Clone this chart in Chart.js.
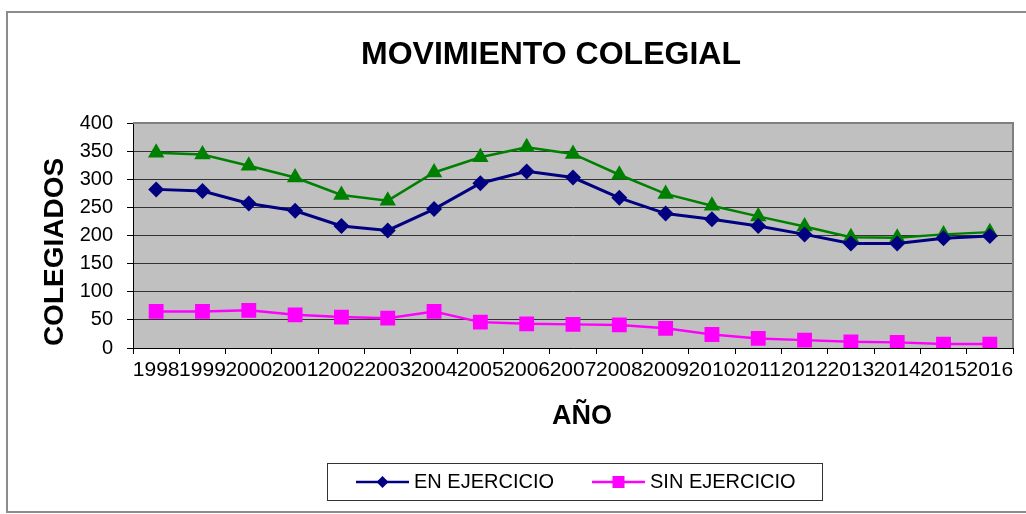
<!DOCTYPE html>
<html>
<head>
<meta charset="utf-8">
<script src="https://cdn.jsdelivr.net/npm/chart.js@4/dist/chart.umd.min.js"></script>
<style>
  html, body { margin: 0; padding: 0; background: #fff; }
  #wrap { position: relative; width: 1026px; height: 514px; }
</style>
</head>
<body>
<div id="wrap"><canvas id="chart"></canvas></div>
<script>
// datos
var years = ['1998', '1999', '2000', '2001', '2002', '2003', '2004', '2005', '2006', '2007',
             '2008', '2009', '2010', '2011', '2012', '2013', '2014', '2015', '2016'];
var enEjercicio = [282, 279, 257, 244, 217, 209, 247, 293, 314, 303, 267, 239, 229, 217, 202, 186, 186, 195, 199];
var sinEjercicio = [65, 65, 67, 59, 55, 53, 65, 46, 43, 42, 41, 35, 24, 17, 14, 11, 10, 7, 7];
var total = [347, 344, 324, 303, 272, 262, 312, 339, 357, 345, 308, 274, 253, 234, 216, 197, 196, 202, 206];
var yMin = 0, yMax = 400, yStep = 50;

var FONT = '"Liberation Sans", Arial, sans-serif';

// fondo gris del area de trazado
var backgroundPlugin = {
  id: 'plotBackground',
  beforeDraw: function(chart) {
    var ctx = chart.ctx, a = chart.chartArea;
    ctx.save();
    ctx.fillStyle = '#c0c0c0';
    ctx.fillRect(a.left, a.top, a.right - a.left, a.bottom - a.top);
    ctx.restore();
  },
  beforeDatasetsDraw: function(chart) {
    var ctx = chart.ctx, a = chart.chartArea;
    ctx.save();
    ctx.strokeStyle = '#808080';
    ctx.lineWidth = 2;
    ctx.beginPath();
    ctx.moveTo(a.left, a.top);
    ctx.lineTo(a.right, a.top);
    ctx.lineTo(a.right, a.bottom);
    ctx.stroke();
    ctx.restore();
  }
};

// titulos, borde y leyenda con recuadro
var textPlugin = {
  id: 'texts',
  afterDraw: function(chart) {
    var ctx = chart.ctx;
    ctx.save();

    // borde del grafico (sin lado derecho visible)
    ctx.strokeStyle = '#8c8c8c';
    ctx.lineWidth = 2;
    ctx.beginPath();
    ctx.moveTo(1026, 12);
    ctx.lineTo(7, 12);
    ctx.lineTo(7, 512);
    ctx.lineTo(1026, 512);
    ctx.stroke();

    ctx.fillStyle = '#000';
    ctx.textAlign = 'center';
    ctx.textBaseline = 'middle';

    ctx.font = 'bold 32px ' + FONT;
    ctx.fillText('MOVIMIENTO COLEGIAL', 551, 55);

    ctx.font = 'bold 27px ' + FONT;
    ctx.fillText('AÑO', 582, 417);

    ctx.save();
    ctx.translate(55, 252);
    ctx.rotate(-Math.PI / 2);
    ctx.font = 'bold 28px ' + FONT;
    ctx.fillText('COLEGIADOS', 0, 0);
    ctx.restore();

    // leyenda
    ctx.strokeStyle = '#333';
    ctx.lineWidth = 1;
    ctx.strokeRect(327.5, 463.5, 495, 37);

    var itemX = [356, 592];
    var y = 482;
    var n = 0;
    chart.data.datasets.forEach(function(ds) {
      if (ds.hideInLegend) return;
      var x = itemX[n++];
      ctx.strokeStyle = ds.borderColor;
      ctx.lineWidth = 2.5;
      ctx.beginPath();
      ctx.moveTo(x, y);
      ctx.lineTo(x + 53, y);
      ctx.stroke();
      ctx.fillStyle = ds.pointBackgroundColor;
      var cx = x + 26.5;
      ctx.beginPath();
      if (ds.pointStyle === 'rectRot') {
        ctx.moveTo(cx, y - 6);
        ctx.lineTo(cx + 6, y);
        ctx.lineTo(cx, y + 6);
        ctx.lineTo(cx - 6, y);
      } else {
        ctx.rect(cx - 6, y - 6, 12, 12);
      }
      ctx.closePath();
      ctx.fill();
      ctx.fillStyle = '#000';
      ctx.font = '20px ' + FONT;
      ctx.textAlign = 'left';
      ctx.fillText(ds.label, x + 58, y);
    });

    ctx.restore();
  }
};

new Chart(document.getElementById('chart'), {
  type: 'line',
  data: {
    labels: years,
    datasets: [{
      label: 'EN EJERCICIO',
      data: enEjercicio,
      borderColor: '#000080',
      backgroundColor: '#000080',
      pointBackgroundColor: '#000080',
      pointBorderColor: '#000080',
      borderWidth: 3,
      pointStyle: 'rectRot',
      pointRadius: 8,
      pointBorderWidth: 0,
      tension: 0
    }, {
      label: 'SIN EJERCICIO',
      data: sinEjercicio,
      borderColor: '#ff00ff',
      backgroundColor: '#ff00ff',
      pointBackgroundColor: '#ff00ff',
      pointBorderColor: '#ff00ff',
      borderWidth: 2.5,
      pointStyle: 'rect',
      pointRadius: 10.5,
      pointBorderWidth: 0,
      tension: 0
    }, {
      label: 'TOTAL',
      hideInLegend: true,
      data: total,
      borderColor: '#008000',
      backgroundColor: '#008000',
      pointBackgroundColor: '#008000',
      pointBorderColor: '#008000',
      borderWidth: 2.5,
      pointStyle: 'triangle',
      pointRadius: 9.5,
      pointBorderWidth: 0,
      tension: 0
    }]
  },
  options: {
    responsive: true,
    maintainAspectRatio: false,
    animation: false,
    layout: {
      padding: { left: 0, top: 123, right: 13, bottom: 126 }
    },
    plugins: {
      legend: { display: false },
      title: { display: false },
      tooltip: { enabled: false }
    },
    scales: {
      x: {
        offset: true,
        afterFit: function(scale) { scale.height = 40; },
        grid: {
          offset: true,
          drawOnChartArea: false,
          drawTicks: true,
          tickLength: 6,
          tickColor: '#000'
        },
        border: { color: '#000', width: 1 },
        ticks: {
          autoSkip: false,
          maxRotation: 0,
          minRotation: 0,
          padding: 4,
          color: '#000',
          font: { family: FONT, size: 21 }
        }
      },
      y: {
        min: yMin,
        max: yMax,
        afterFit: function(scale) { scale.width = 133; },
        grid: {
          color: function(c) { return c.tick && c.tick.value === yMax ? 'rgba(0,0,0,0)' : '#333'; },
          lineWidth: 1,
          tickLength: 6,
          tickColor: '#000'
        },
        border: { color: '#000', width: 1 },
        ticks: {
          stepSize: yStep,
          padding: 14,
          color: '#000',
          font: { family: FONT, size: 20 }
        }
      }
    }
  },
  plugins: [backgroundPlugin, textPlugin]
});
</script>
</body>
</html>
